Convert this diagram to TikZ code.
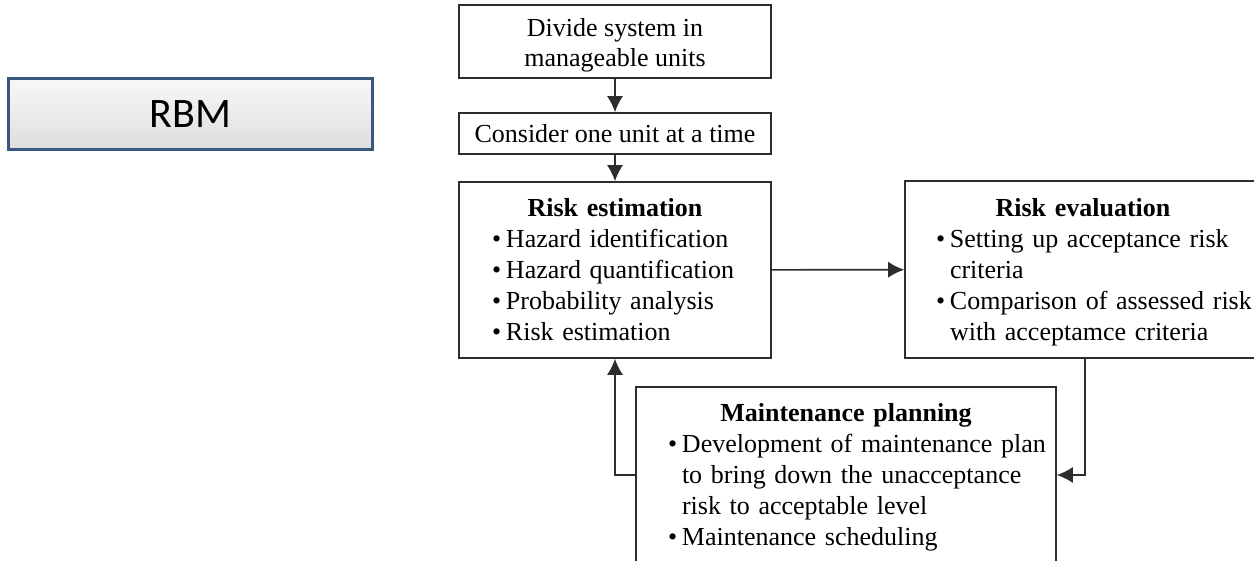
\documentclass[tikz,border=0pt]{standalone}
\usepackage{fontspec}
\setmainfont{Liberation Serif}
\newfontfamily\rbmfont{Carlito}
\usetikzlibrary{arrows.meta}

\definecolor{rbmblue}{RGB}{56,88,128}
\definecolor{flowgray}{RGB}{45,45,45}
\hfuzz=200pt
\hbadness=10000

% box heading, bullet line and its continuation lines
\newcommand{\boxhead}[1]{\par\noindent\hbox to \linewidth{\hss\bfseries #1\hss}\par}
\newcommand{\bline}[1]{\par\noindent\hbox{\makebox[7pt][l]{\textbullet}#1}\par}
\newcommand{\contline}[1]{\par\noindent\hbox{\hspace*{7pt}#1}\par}
\newcommand{\liftup}[1]{\par\kern#1\relax}

\begin{document}
\begin{tikzpicture}[x=0.5pt,y=-0.5pt,
    flowbox/.style={draw=flowgray, line width=0.8pt, fill=white, inner sep=0pt,
        font=\fontsize{13}{15}\selectfont, align=center},
    listbox/.style={draw=flowgray, line width=0.8pt, fill=white, inner sep=0pt,
        font=\fontsize{13}{15.5}\selectfont},
    flowarrow/.style={draw=flowgray, line width=0.8pt, -{Latex[length=8pt,width=8pt]}}]
    \useasboundingbox (0,0) rectangle (1254,561);
    % title box on the left
    \node[draw=rbmblue, line width=1.3pt, top color=gray!6, bottom color=gray!26,
        minimum width=182pt, minimum height=35.5pt, font=\rbmfont\fontsize{21}{24}\selectfont]
        (rbm) at (190.5,114) {RBM};
    % steps of the procedure
    \node[flowbox, minimum width=156pt, minimum height=36.5pt] (divide) at (615,41.5)
        {\rule{0pt}{12.5pt}Divide system in\\manageable units};
    \node[flowbox, minimum width=156pt, minimum height=20.5pt] (unit) at (615,133.5)
        {Consider one unit at a time};
    \node[listbox, minimum width=156pt, minimum height=88pt, text width=123pt] (est) at (615,270)
        {\boxhead{Risk estimation}\bline{Hazard identification}\bline{Hazard quantification}%
         \bline{Probability analysis}\bline{Risk estimation}\liftup{6.5pt}};
    \node[listbox, minimum width=178pt, minimum height=88.5pt, text width=147pt] (eval) at (1083,269.5)
        {\boxhead{Risk evaluation}\bline{Setting up acceptance risk}\contline{criteria}%
         \bline{Comparison of assessed risk}\contline{with acceptamce criteria}\liftup{4pt}};
    \node[listbox, minimum width=210pt, minimum height=88pt, text width=178pt] (plan) at (846,475)
        {\boxhead{Maintenance planning}%
         \bline{Development of maintenance plan}\contline{to bring down the unacceptance}%
         \contline{risk to acceptable level}\bline{Maintenance scheduling}\liftup{4.5pt}};
    % connectors
    \coordinate (turn) at (1085,475);
    \draw[flowarrow] (divide) -- (unit);
    \draw[flowarrow] (unit) -- (est);
    \draw[flowarrow] (est) -- (eval);
    \draw[flowarrow] (turn |- eval.south) -- (turn) -- (plan.east);
    \draw[flowarrow] (plan.west) -| (est.south);
\end{tikzpicture}
\end{document}
